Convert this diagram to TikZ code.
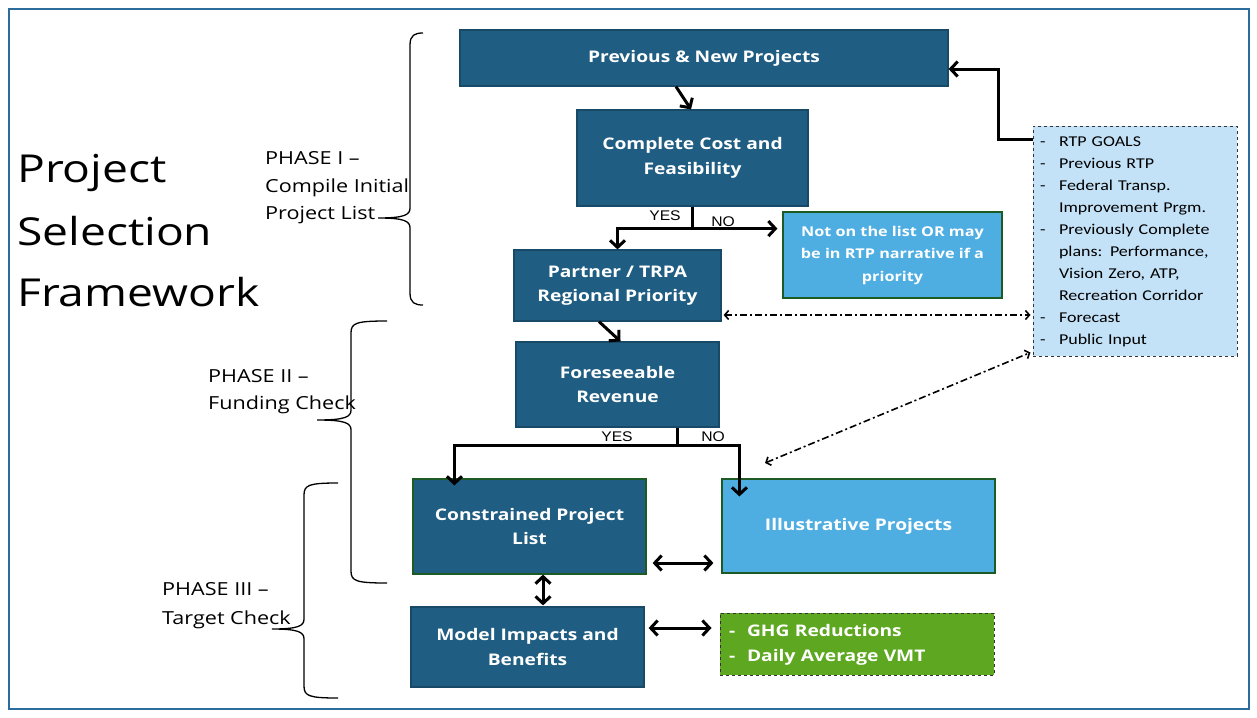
\documentclass[tikz,border=0pt]{standalone}
\usepackage{fontspec}
\setmainfont{Open Sans}[FakeStretch=1.2]
\newfontfamily\boxfont{Open Sans}[FakeStretch=1.2]
\newfontfamily\calfont{Carlito}[FakeStretch=1.2]
\newfontfamily\arfont{Liberation Sans}[FakeStretch=1.12]
\usetikzlibrary{arrows.meta,calc}
\definecolor{darkblue}{RGB}{31,93,130}
\definecolor{darkedge}{RGB}{24,74,104}
\definecolor{greenedge}{RGB}{30,90,35}
\definecolor{lightblue}{RGB}{78,174,226}
\definecolor{srcfill}{RGB}{196,226,247}
\definecolor{ghgfill}{RGB}{94,167,32}
\definecolor{framecol}{RGB}{44,108,156}
\tikzset{
  dbox/.style={draw=darkedge, fill=darkblue, line width=1.2pt, text=white, align=center,
    font=\boxfont\bfseries\fontsize{16}{24.5}\selectfont},
  gbox/.style={dbox, draw=greenedge},
  lbox/.style={dbox, draw=greenedge, fill=lightblue},
  listbox/.style={draw=black!80, dashed, line width=1pt, align=left, inner sep=0pt},
  arr/.style={line width=3pt, -{Straight Barb[length=7pt,width=15pt]}},
  dbl/.style={line width=3pt, {Straight Barb[length=7pt,width=15pt]}-{Straight Barb[length=7pt,width=15pt]}},
  plain/.style={line width=3pt},
  dd/.style={line width=1.6pt, dash pattern=on 7pt off 3pt on 2pt off 3pt,
    {Straight Barb[length=4pt,width=9pt]}-{Straight Barb[length=4pt,width=9pt]}},
  yn/.style={font=\arfont\fontsize{14}{16}\selectfont, inner sep=0pt},
  phase/.style={font=\fontsize{18}{22}\selectfont, anchor=base west, inner sep=0pt},
  ttl/.style={font=\fontsize{38.5}{50}\selectfont, anchor=base west, inner sep=0pt},
  bracestyle/.style={line width=1.3pt},
}
\newcommand\phasebrace[6]{%
  \draw[bracestyle] (#5,#2) .. controls ({#1+5},#2) and (#1,{#2+2}) .. (#1,{#2+12})
    -- (#1,{#3-10}) .. controls (#1,{#3-3}) and ({#1-6},#3) .. (#6,#3)
    .. controls ({#1-6},#3) and (#1,{#3+3}) .. (#1,{#3+10})
    -- (#1,{#4-12}) .. controls (#1,{#4-2}) and ({#1+5},#4) .. (#5,#4);}
\begin{document}
\begin{tikzpicture}[x=1pt,y=-1pt]
\useasboundingbox (0,0) rectangle (1257,717);
\fill[white] (0,0) rectangle (1257,717);
\draw[framecol, line width=2pt] (9,9) rectangle (1249,709);

% title
\node[ttl] (t1) at (17,182) {Project};
\node[ttl] (t2) at (17,245) {Selection};
\node[ttl] (t3) at (17,306) {Framework};

% phase labels
\node[phase] (p1a) at (265,164) {PHASE I –};
\node[phase] (p1b) at (265,192) {Compile Initial};
\node[phase] (p1c) at (265,219) {Project List};
\node[phase] (p2a) at (208,382) {PHASE II –};
\node[phase] (p2b) at (208,409) {Funding Check};
\node[phase] (p3a) at (162,595) {PHASE III –};
\node[phase] (p3b) at (162,624) {Target Check};

% braces
\phasebrace{410}{33}{218}{305}{423}{378}
\phasebrace{351}{321}{420}{583}{387}{317}
\phasebrace{304}{483}{629}{698}{338}{272}

% boxes
\node[dbox, minimum width=488pt, minimum height=56pt] (prev) at (704,58) {Previous \& New Projects};
\node[dbox, minimum width=231pt, minimum height=96pt] (cost) at (692.5,158) {Complete Cost and\\Feasibility};
\node[dbox, minimum width=207pt, minimum height=71pt] (partner) at (617.5,285.5) {Partner / TRPA\\Regional Priority};
\node[lbox, minimum width=219pt, minimum height=86pt, font=\boxfont\bfseries\fontsize{13.5}{22.5}\selectfont] (noton) at (892.5,255) {Not on the list OR may\\be in RTP narrative if a\\priority};
\node[dbox, minimum width=203pt, minimum height=85pt] (fore) at (617.5,384.5) {Foreseeable\\Revenue};
\node[gbox, minimum width=233pt, minimum height=95pt] (cons) at (529.5,526.5) {Constrained Project\\List};
\node[lbox, minimum width=273pt, minimum height=94pt] (illus) at (858.5,526) {Illustrative Projects};
\node[dbox, minimum width=233pt, minimum height=80pt] (model) at (527.5,647) {Model Impacts and\\Benefits};
\node[listbox, fill=ghgfill, text=white, minimum width=274pt, minimum height=62pt,
  font=\boxfont\bfseries\fontsize{16}{25}\selectfont, text width=256pt] (ghg) at (857,644)
  {\begin{tabular}{@{}p{18pt}@{}l@{}}-&GHG Reductions\\-&Daily Average VMT\end{tabular}};
\node[listbox, fill=srcfill, text=black, minimum width=204pt, minimum height=230pt,
  font=\calfont\fontsize{15}{22}\selectfont, text width=190pt] (src) at (1135,241)
  {\begin{tabular}{@{}p{19pt}@{}l@{}}
  -&RTP GOALS\\
  -&Previous RTP\\
  -&Federal Transp.\\
   &Improvement Prgm.\\
  -&Previously Complete\\
   &plans: Performance,\\
   &Vision Zero, ATP,\\
   &Recreation Corridor\\
  -&Forecast\\
  -&Public Input
  \end{tabular}};

% connectors
\draw[arr] ($(prev.south)+(-28,0)$) -- ($(cost.north)+(-1.5,0)$);
\draw[plain] (cost.south) -- ++(0,22) coordinate (cs);
\draw[arr] ([xshift=1.5pt]cs) -| (partner.north);
\draw[arr, shorten >=5pt] ([xshift=-1.5pt]cs) -- (cs -| noton.west);
\node[yn] (yes1) at (665,216) {YES};
\node[yn] (no1) at (723,222) {NO};

\draw[arr] ($(partner.south)+(-18.5,0)$) -- ($(fore.north)+(3,0)$);
\path (fore.south) ++(59.5,18) coordinate (fs);
\draw[plain] ($(fore.south)+(59.5,0)$) -- (fs);
\draw[arr] ([xshift=1.5pt]fs) -| ($(cons.north west)+(42,7)$);
\draw[arr] ([xshift=-1.5pt]fs) -| ($(illus.north west)+(18,18)$);
\node[yn] (yes2) at (617,437) {YES};
\node[yn] (no2) at (713,437) {NO};

\draw[dbl, shorten <=6pt, shorten >=8pt] (cons.east |- 0,563) -- (illus.west |- 0,563);
\draw[dbl, shorten <=0pt, shorten >=1pt] (cons.south -| 543,0) -- (model.north -| 543,0);
\draw[dbl, shorten <=4pt, shorten >=8pt] (model.east |- 0,628) -- (ghg.west |- 0,628);

\draw[arr] (src.west |- 0,139) -- ++(-34,0) |- ($(prev.east)+(0,11)$);

\draw[dd, shorten <=2pt, shorten >=2pt] (partner.east |- 0,315) -- (src.west |- 0,315);
\coordinate (ddend) at (765,463);
\draw[dd] (ddend) -- ($(src.south west)+(-2,-4)$);
\end{tikzpicture}
\end{document}
